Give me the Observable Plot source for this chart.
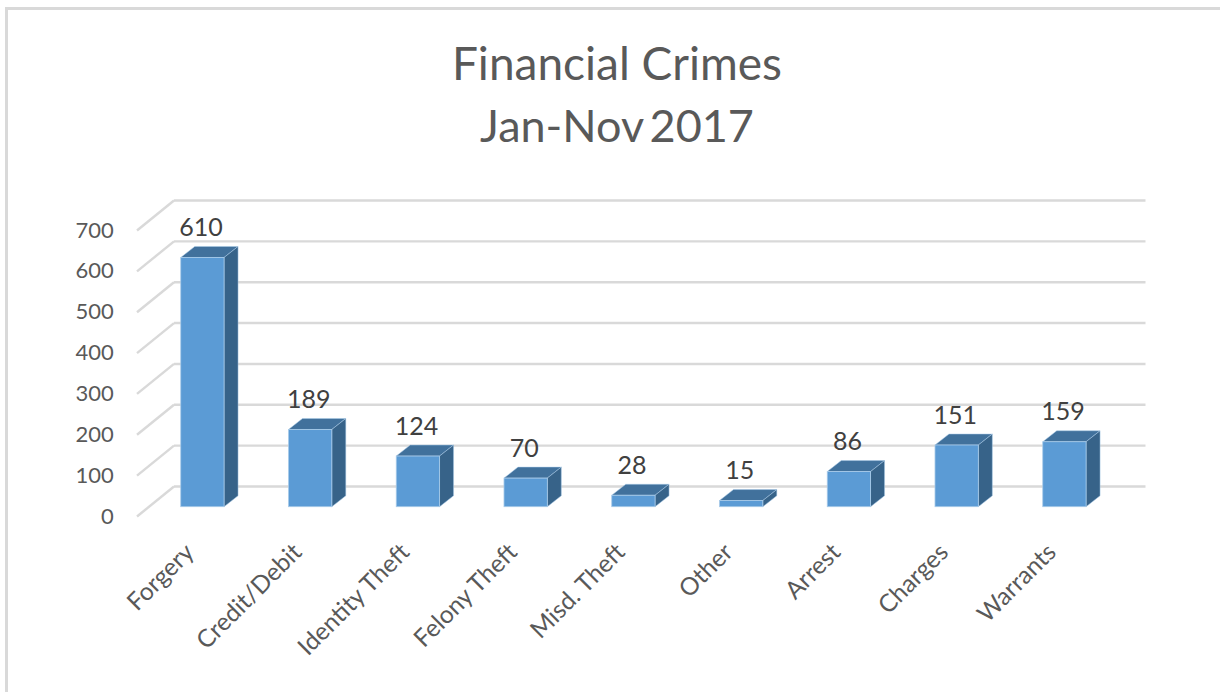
<!DOCTYPE html>
<html>
<head>
<meta charset="utf-8">
<script src="https://cdn.jsdelivr.net/npm/d3@7"></script>
<script src="https://cdn.jsdelivr.net/npm/@observablehq/plot@0.6"></script>
<style>
  html, body { margin: 0; padding: 0; background: #fff; overflow: hidden; }
  #page { position: relative; width: 1220px; height: 692px; font-family: Lato, "Open Sans", sans-serif; }
  #frame { position: absolute; left: 5px; top: 7px; right: 0; bottom: 0; border-left: 3px solid #d9d9d9; border-top: 3px solid #d9d9d9; pointer-events: none; }
  #title { height: 170px; box-sizing: border-box; padding: 32px 0 0 14px; text-align: center; color: #595959; font-size: 46px; line-height: 62px; font-weight: 400; margin: 0; }
  #title span { display: block; }
  #title span + span { word-spacing: -5px; font-size: 45px; }
  #chart svg { display: block; }
</style>
</head>
<body>
<div id="page">
  <div id="frame"></div>
  <h1 id="title"><span>Financial Crimes</span><span>Jan-Nov 2017</span></h1>
  <div id="chart"></div>
</div>
<script>
const categories = ["Forgery", "Credit/Debit", "Identity Theft", "Felony Theft", "Misd. Theft", "Other", "Arrest", "Charges", "Warrants"];
const counts = [610, 189, 124, 70, 28, 15, 86, 151, 159];
const yTicks = [0, 100, 200, 300, 400, 500, 600, 700];

const table = categories.map((category, i) => ({category, count: counts[i]}));

const textColor = "#595959";
const gridColor = "#d9d9d9";
const faceColor = "#5b9bd5";
const topColor = "#41719c";
const sideColor = "#376389";
const edgeColor = "#a9cbe9";

// Perspective depths, in pixels
const barDepth = {dx: 14, dy: -11};
const wall = {x: 174, dy: -20.7};      // back wall, relative to the bar plane
const floor = {x: 137, dy: 9.3};       // front edge of the floor, relative to the bar plane

function ns(tag) { return document.createElementNS("http://www.w3.org/2000/svg", tag); }

// Adds the top and side faces of each bar from the rect Plot drew for it.
function extrude(index, scales, values, dimensions, context, next) {
  const g = next(index, scales, values, dimensions, context);
  const rects = Array.from(g.querySelectorAll("rect"));
  for (const rect of rects) {
    const x = +rect.getAttribute("x"), y = +rect.getAttribute("y");
    const w = +rect.getAttribute("width"), h = +rect.getAttribute("height");
    const {dx, dy} = barDepth;
    const top = ns("polygon");
    top.setAttribute("points", `${x},${y} ${x + dx},${y + dy} ${x + w + dx},${y + dy} ${x + w},${y}`);
    top.setAttribute("fill", topColor);
    const side = ns("polygon");
    side.setAttribute("points", `${x + w},${y} ${x + w + dx},${y + dy} ${x + w + dx},${y + h + dy} ${x + w},${y + h}`);
    side.setAttribute("fill", sideColor);
    for (const p of [top, side]) {
      p.setAttribute("stroke", edgeColor);
      p.setAttribute("stroke-width", 0.5);
      rect.parentNode.insertBefore(p, rect);
    }
  }
  return g;
}

// Turns each horizontal rule into the diagonal running from the wall to the floor edge.
function floorDiagonals(index, scales, values, dimensions, context, next) {
  const g = next(index, scales, values, dimensions, context);
  g.querySelectorAll("line").forEach((line, i) => {
    const y = scales.y(yTicks[index[i]]);
    line.setAttribute("x1", floor.x);
    line.setAttribute("x2", wall.x);
    line.setAttribute("y1", y + floor.dy);
    line.setAttribute("y2", y + wall.dy);
    line.removeAttribute("transform");
  });
  return g;
}

const plot = Plot.plot({
  width: 1220,
  height: 522,
  marginLeft: 116.3,
  marginRight: 69.5,
  marginTop: 50.7,
  marginBottom: 185.3,
  style: {fontFamily: 'Lato, "Open Sans", sans-serif', background: "transparent", overflow: "visible"},
  x: {domain: categories, padding: 0.598, round: false, label: null},
  y: {domain: [0, 700], label: null},
  marks: [
    Plot.ruleY(yTicks, {
      stroke: gridColor, strokeWidth: 2.4, dy: wall.dy, insetLeft: wall.x - 116.3, insetRight: 5
    }),
    Plot.ruleY(yTicks, {
      stroke: gridColor, strokeWidth: 2.4, render: floorDiagonals
    }),
    Plot.axisY({
      ticks: yTicks, tickSize: 0, tickPadding: 3, dy: floor.dy, label: null,
      fontSize: 22, stroke: "none", fill: textColor
    }),
    Plot.axisX({
      tickSize: 0, tickRotate: -45, tickPadding: 26, dx: -13, dy: 15, label: null,
      fontSize: 24.5, fill: textColor
    }),
    Plot.barY(table, {
      x: "category", y: "count", fill: faceColor, stroke: edgeColor, strokeWidth: 0.8, render: extrude
    }),
    Plot.text(table, {
      x: "category", y: "count", text: d => String(d.count),
      dx: -2, dy: -30, fontSize: 25, fill: "#404040", lineAnchor: "middle"
    })
  ]
});
document.getElementById("chart").appendChild(plot);
</script>
</body>
</html>
